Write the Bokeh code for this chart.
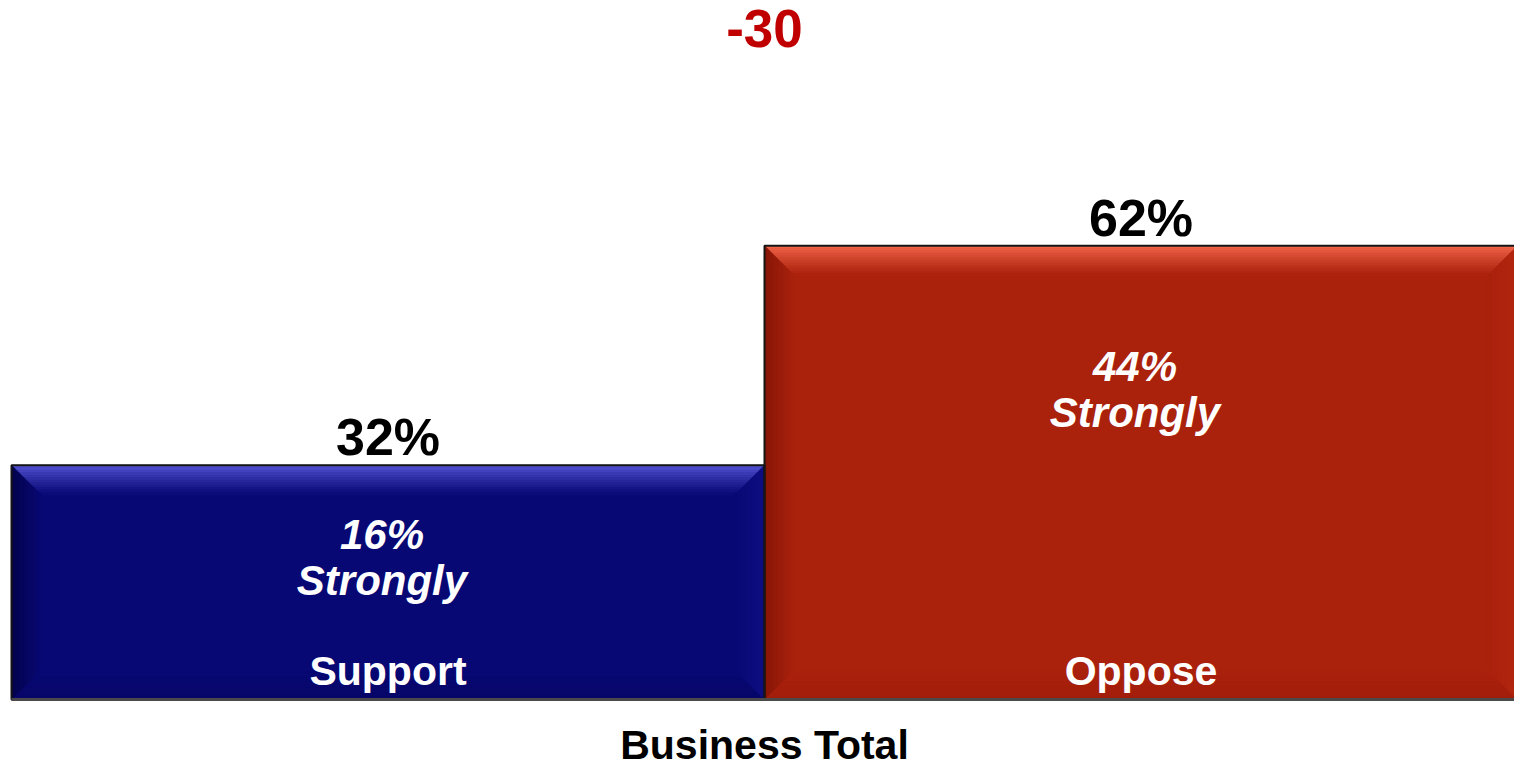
from bokeh.plotting import figure
from bokeh.models import Range1d, ColumnDataSource
from bokeh.core.properties import value
from bokeh.embed import file_html
from bokeh.resources import INLINE

# ---------------- data ----------------
categories = ["Support", "Oppose"]
totals = [32, 62]
strongly = [16, 44]
title_text = "Business Total"
net_value = totals[0] - totals[1]          # -30

# ---------------- layout / style ----------------
W, H = 1514, 768
PX_PER_X = 753.0
PX_PER_Y = 7.32
x0 = -0.5 - 11 / PX_PER_X
x1 = x0 + W / PX_PER_X
y0 = -69 / PX_PER_Y
y1 = y0 + H / PX_PER_Y
SHIFT = -17   # compensation for svg baseline placement

base_cols = ["#080874", "#AA210C"]
top_cols = ["#5A5ADE", "#F86C50"]
left_cols = ["#03034C", "#861607"]
right_cols = ["#0E0E82", "#B2260F"]
bottom_cols = ["#060668", "#A21E0B"]
strong_y = [20.4, 43.3]       # label placement (layout, not data)
FONT = value("Liberation Sans")

p = figure(width=W, height=H, x_range=Range1d(x0, x1), y_range=Range1d(y0, y1),
           output_backend="svg", toolbar_location=None,
           x_axis_location=None, y_axis_location=None,
           min_border=0, min_border_left=0, min_border_right=0,
           min_border_top=0, min_border_bottom=0)
p.grid.visible = False
p.outline_line_color = None
p.background_fill_color = "white"
p.border_fill_color = "white"

xs_c = list(range(len(categories)))
lefts = [x - 0.5 for x in xs_c]
rights = [x + 0.5 for x in xs_c]

src = ColumnDataSource(dict(left=lefts, right=rights, top=totals,
                            bottom=[0] * len(totals), color=base_cols))
p.quad(left="left", right="right", top="top", bottom="bottom", source=src,
       fill_color="color", line_color=None)


def hex2rgb(h):
    h = h.lstrip("#")
    return tuple(int(h[i:i + 2], 16) for i in (0, 2, 4))


def mix(a, b, t):
    ra, rb = hex2rgb(a), hex2rgb(b)
    return "#%02x%02x%02x" % tuple(int(round(ra[i] + (rb[i] - ra[i]) * t)) for i in range(3))


# bevel strips (derived from the bar values)
bev_px = 30
n = 12
bx = bev_px / PX_PER_X
by = bev_px / PX_PER_Y
pxs, pys, pcols = [], [], []
for i in range(len(categories)):
    L, R, T, B = lefts[i], rights[i], totals[i], 0
    for k in range(n):
        d0, d1 = k / n, (k + 1) / n
        t = (k + 0.5) / n
        # top
        pxs.append([L + d0 * bx, R - d0 * bx, R - d1 * bx, L + d1 * bx])
        pys.append([T - d0 * by, T - d0 * by, T - d1 * by, T - d1 * by])
        pcols.append(mix(top_cols[i], base_cols[i], t ** 0.8))
        # bottom
        pxs.append([L + d0 * bx, R - d0 * bx, R - d1 * bx, L + d1 * bx])
        pys.append([B + d0 * by, B + d0 * by, B + d1 * by, B + d1 * by])
        pcols.append(mix(bottom_cols[i], base_cols[i], t))
        # left
        pxs.append([L + d0 * bx, L + d1 * bx, L + d1 * bx, L + d0 * bx])
        pys.append([T - d0 * by, T - d1 * by, B + d1 * by, B + d0 * by])
        pcols.append(mix(left_cols[i], base_cols[i], t))
        # right
        pxs.append([R - d0 * bx, R - d1 * bx, R - d1 * bx, R - d0 * bx])
        pys.append([T - d0 * by, T - d1 * by, B + d1 * by, B + d0 * by])
        pcols.append(mix(right_cols[i], base_cols[i], t))

p.patches(xs=pxs, ys=pys, fill_color=pcols, line_color=pcols, line_width=0.6)

# outlines
p.quad(left="left", right="right", top="top", bottom="bottom", source=src,
       fill_color=None, line_color="#151515", line_width=2)
p.segment(x0=[lefts[0]], y0=[0], x1=[rights[-1]], y1=[0],
          line_color="#4a4a4a", line_width=3)

# total labels above bars
p.text(x=xs_c, y=totals, text=[f"{v}%" for v in totals], text_align="center",
       text_baseline="alphabetic", y_offset=-11 + SHIFT, text_font=FONT,
       text_font_style="bold", text_font_size="52px", text_color="black")

# strongly labels
p.text(x=[x - 0.008 for x in xs_c], y=strong_y, text=[f"{v}%" for v in strongly],
       text_align="center", text_baseline="alphabetic", y_offset=1 + SHIFT, text_font=FONT,
       text_font_style="bold italic", text_font_size="42px", text_color="white")
p.text(x=[x - 0.008 for x in xs_c], y=strong_y, text=["Strongly"] * len(strongly),
       text_align="center", text_baseline="alphabetic", y_offset=47 + SHIFT, text_font=FONT,
       text_font_style="bold italic", text_font_size="42px", text_color="white")

# category labels inside bars
p.text(x=xs_c, y=[0] * len(xs_c), text=categories, text_align="center",
       text_baseline="alphabetic", y_offset=-12 + SHIFT, text_font=FONT,
       text_font_style="bold", text_font_size="41px", text_color="white")

# net difference
p.text(x=[0.5], y=[max(totals) + 27], text=[f"{net_value}"], text_align="center",
       text_baseline="alphabetic", y_offset=-3 + SHIFT, text_font=FONT, text_font_style="bold",
       text_font_size="53px", text_color="#C00000")

# group title below
p.text(x=[0.5], y=[0], text=[title_text], text_align="center",
       text_baseline="alphabetic", y_offset=62 + SHIFT, text_font=FONT,
       text_font_style="bold", text_font_size="41px", text_color="black")

open("out.html", "w").write(file_html(p, INLINE))
